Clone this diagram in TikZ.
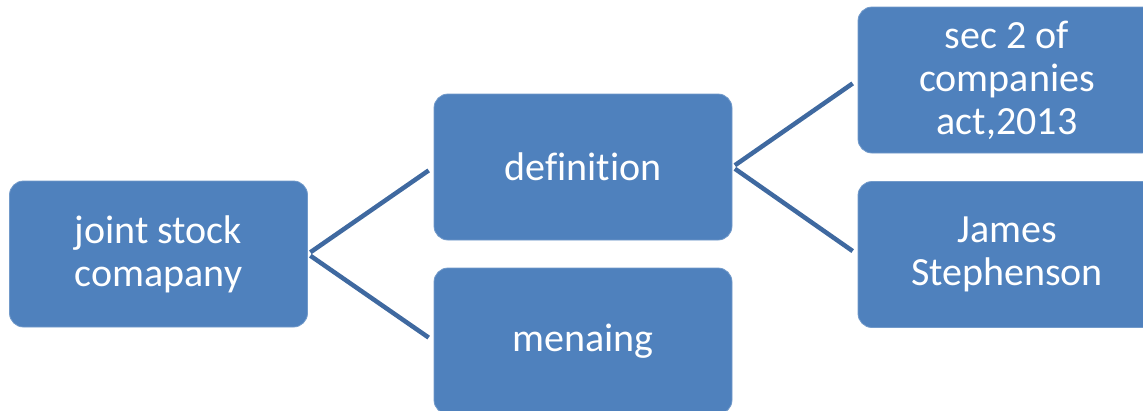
\documentclass[tikz,border=0pt]{standalone}
\usepackage{fontspec}
\setmainfont[Ligatures=CommonOff]{Carlito}
\definecolor{boxblue}{RGB}{79,129,189}
\definecolor{linkblue}{RGB}{63,105,160}
\begin{document}
\begin{tikzpicture}[x=1pt,y=-1pt,
  box/.style={rectangle, rounded corners=14pt, fill=boxblue, draw=boxblue!80!white, line width=0.8pt,
    minimum width=298pt, minimum height=146pt, inner sep=0pt, text=white, align=center,
    font=\fontsize{40pt}{43pt}\selectfont},
  link/.style={draw=linkblue, line width=4.5pt, shorten <=3pt, shorten >=6pt}]
\useasboundingbox (0,0) rectangle (1143,410);
\node[box] (root) at (158.5,254) {joint stock\\comapany};
\node[box] (def) at (583,167) {definition};
\node[box] (mean) at (583,341) {menaing};
\node[box] (sec) at (1007,80) {sec 2 of\\companies\\act,2013};
\node[box] (james) at (1007,254.5) {James\\Stephenson};
\draw[link] (root.east) -- (def.west);
\draw[link] (root.east) -- (mean.west);
\draw[link] (def.east) -- (sec.west);
\draw[link] (def.east) -- (james.west);
\end{tikzpicture}
\end{document}
